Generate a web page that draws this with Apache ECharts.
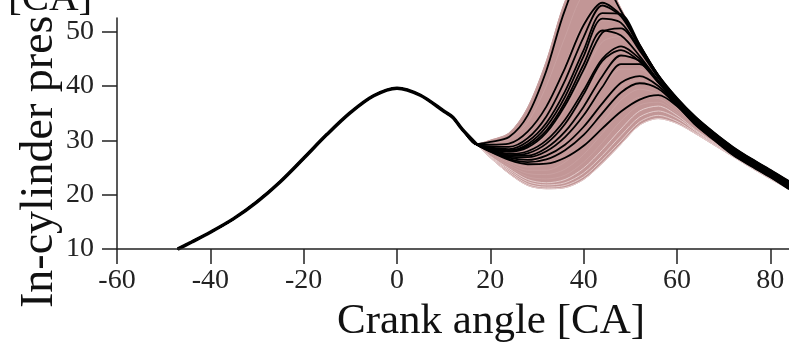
<!DOCTYPE html>
<html>
<head>
<meta charset="utf-8">
<script src="https://cdn.jsdelivr.net/npm/echarts@6/dist/echarts.min.js"></script>
<style>
  html, body { margin: 0; padding: 0; background: #fff; }
  #chart { width: 789px; height: 348px; }
</style>
</head>
<body>
<div id="chart"></div>
<script>
// ---- data ----
// shared compression (motoring) part, crank angle [CA] -> pressure
const compAngles   = [-47, -44, -40, -35, -30, -25, -20, -15, -10, -5, 0, 5, 10, 12, 14, 17];
const compPressure = [10.0, 11.3, 13.1, 15.6, 18.7, 22.4, 26.7, 31.1, 35.1, 38.2, 39.6, 38.3, 35.4, 34.2, 32.0, 29.3];

// combustion / expansion part, sampled at these crank angles
const combAngles = [20, 24, 28, 32, 36, 40, 44, 48, 52, 56, 60, 64, 68, 72, 76, 80, 84];

// pink cycles (from earliest / highest to latest / lowest)
const pink1  = [30.0, 31.3, 36.0, 44.5, 55.5, 61.5, 60.5, 54.2, 47.7, 42.1, 37.8, 34.3, 31.3, 28.7, 26.4, 24.4, 22.4];
const pink2  = [29.6, 30.2, 33.3, 40.0, 49.0, 57.0, 58.3, 53.6, 47.4, 41.9, 37.6, 34.2, 31.2, 28.6, 26.3, 24.3, 22.3];
const pink3  = [29.2, 29.3, 31.3, 36.2, 43.8, 51.8, 55.2, 52.6, 47.1, 41.8, 37.5, 34.0, 31.1, 28.5, 26.2, 24.2, 22.2];
const pink4  = [28.8, 28.5, 29.8, 33.3, 39.3, 46.7, 52.0, 51.6, 46.7, 41.6, 37.4, 33.9, 31.0, 28.4, 26.1, 24.1, 22.1];
const pink5  = [28.5, 27.8, 28.4, 30.9, 35.6, 42.1, 48.1, 49.1, 45.9, 41.3, 37.2, 33.8, 30.8, 28.3, 26.0, 24.0, 22.0];
const pink6  = [28.2, 27.1, 27.2, 28.9, 32.3, 37.6, 43.7, 46.1, 44.6, 40.8, 37.0, 33.6, 30.7, 28.2, 25.9, 23.9, 21.9];
const pink7  = [28.0, 26.5, 26.0, 27.0, 29.7, 34.1, 39.5, 43.1, 43.1, 40.2, 36.7, 33.4, 30.5, 28.0, 25.8, 23.8, 21.8];
const pink8  = [27.8, 26.1, 25.1, 25.5, 27.5, 31.0, 35.8, 39.9, 41.1, 39.3, 36.3, 33.1, 30.3, 27.9, 25.7, 23.7, 21.7];
const pink9  = [27.6, 25.8, 24.5, 24.5, 26.0, 29.1, 33.3, 37.4, 39.4, 38.5, 35.9, 32.8, 30.1, 27.7, 25.6, 23.6, 21.6];
const pink10 = [27.4, 25.4, 23.9, 23.7, 24.7, 27.4, 31.3, 35.3, 37.9, 37.7, 35.4, 32.5, 29.9, 27.6, 25.4, 23.4, 21.5];
const pink11 = [27.2, 25.1, 23.3, 22.9, 23.6, 26.0, 29.6, 33.6, 36.5, 37.0, 35.0, 32.2, 29.7, 27.5, 25.3, 23.3, 21.4];
const pink12 = [27.1, 24.8, 22.8, 22.2, 22.8, 24.9, 28.3, 32.1, 35.4, 36.3, 34.6, 31.9, 29.6, 27.4, 25.2, 23.2, 21.3];
const pink13 = [27.0, 24.5, 22.4, 21.8, 22.2, 24.0, 27.2, 30.9, 34.3, 35.4, 34.1, 31.7, 29.4, 27.3, 25.1, 23.1, 21.2];
const pink14 = [26.9, 24.2, 22.0, 21.4, 21.7, 23.3, 26.4, 29.9, 33.4, 34.6, 33.5, 31.4, 29.2, 27.1, 25.0, 23.0, 21.1];
const pink15 = [26.8, 23.9, 21.7, 21.1, 21.3, 22.8, 25.8, 29.3, 32.8, 34.0, 33.1, 31.2, 29.1, 27.0, 24.9, 22.9, 21.0];

// black cycles
const black1  = [29.7, 30.6, 34.6, 42.8, 54.0, 60.5, 59.5, 53.8, 47.5, 42.0, 37.8, 34.3, 31.4, 28.8, 26.6, 24.6, 22.5];
const black2  = [29.2, 29.4, 31.6, 36.2, 43.3, 51.2, 55.3, 53.0, 47.4, 41.9, 37.7, 34.2, 31.3, 28.7, 26.5, 24.5, 22.4];
const black3  = [28.9, 28.8, 30.4, 34.4, 41.0, 49.0, 54.8, 52.8, 47.2, 41.8, 37.6, 34.1, 31.2, 28.6, 26.4, 24.4, 22.3];
const black4  = [28.7, 28.4, 29.8, 33.2, 39.0, 46.6, 53.4, 53.2, 47.6, 41.9, 37.5, 34.0, 31.1, 28.5, 26.3, 24.3, 22.2];
const black5  = [28.6, 28.2, 29.3, 32.5, 38.0, 45.5, 52.4, 51.6, 46.8, 41.6, 37.3, 33.8, 31.0, 28.3, 26.2, 24.2, 22.0];
const black6  = [28.4, 27.9, 28.7, 31.4, 36.4, 43.0, 49.8, 50.6, 46.5, 41.5, 37.2, 33.7, 30.9, 28.2, 26.1, 24.1, 21.9];
const black7  = [28.5, 28.0, 29.0, 31.8, 37.0, 44.0, 50.2, 49.3, 45.5, 41.0, 37.1, 33.6, 30.8, 28.1, 26.0, 24.0, 21.8];
const black8  = [28.3, 27.5, 28.0, 30.0, 33.8, 39.2, 45.0, 47.3, 45.0, 40.8, 37.0, 33.5, 30.6, 28.0, 25.8, 23.8, 21.7];
const black9  = [28.2, 27.3, 27.6, 29.4, 33.0, 38.5, 44.6, 46.6, 44.5, 40.6, 36.9, 33.4, 30.5, 27.9, 25.7, 23.7, 21.6];
const black10 = [28.2, 27.2, 27.2, 28.6, 31.6, 36.2, 41.8, 45.6, 44.6, 40.8, 36.8, 33.3, 30.4, 27.8, 25.6, 23.6, 21.5];
const black11 = [28.1, 27.0, 26.9, 28.0, 30.6, 34.6, 39.8, 44.0, 44.0, 40.8, 36.6, 33.1, 30.3, 27.6, 25.5, 23.5, 21.3];
const black12 = [28.0, 26.8, 26.4, 27.2, 29.2, 32.5, 36.8, 40.6, 41.8, 40.0, 36.5, 33.0, 30.2, 27.5, 25.4, 23.4, 21.2];
const black13 = [28.0, 26.6, 26.0, 26.5, 28.2, 31.0, 35.0, 38.8, 40.5, 39.5, 36.4, 32.9, 30.1, 27.4, 25.3, 23.3, 21.1];
const black14 = [27.9, 26.4, 25.6, 25.7, 26.8, 29.0, 32.2, 35.3, 37.5, 38.3, 36.3, 32.8, 30.0, 27.3, 25.2, 23.2, 21.0];

// axis ticks
const xTicks = [-60, -40, -20, 0, 20, 40, 60, 80];
const yTicks = [10, 20, 30, 40, 50];

const pinkCurves  = [pink1, pink2, pink3, pink4, pink5, pink6, pink7, pink8, pink9, pink10, pink11, pink12, pink13, pink14, pink15];
const blackCurves = [black1, black2, black3, black4, black5, black6, black7, black8, black9, black10, black11, black12, black13, black14];

// ---- build series ----
const allAngles = compAngles.concat(combAngles);
function valueAt(curve, i) {
  return i < compAngles.length ? compPressure[i] : curve[i - compAngles.length];
}
function fullCurve(curve) {
  return allAngles.map((a, i) => [a, valueAt(curve, i)]);
}
const everyCurve = pinkCurves.concat(blackCurves);
const upperEnv = allAngles.map((a, i) => [a, Math.max.apply(null, everyCurve.map(c => valueAt(c, i)))]);
const lowerEnv = allAngles.map((a, i) => [a, Math.min.apply(null, everyCurve.map(c => valueAt(c, i)))]);

const SMOOTH = 0.3;
const series = [];
series.push({
  type: 'line', data: upperEnv, smooth: SMOOTH, symbol: 'none', clip: false, silent: true,
  lineStyle: { width: 1.2, color: '#c29898' },
  areaStyle: { color: '#c29696', opacity: 1, origin: 'start' }
});
series.push({
  type: 'line', data: lowerEnv, smooth: SMOOTH, symbol: 'none', clip: false, silent: true,
  lineStyle: { width: 1, color: '#c9a2a2' },
  areaStyle: { color: '#ffffff', opacity: 1, origin: 'start' }
});
pinkCurves.forEach((c, k) => series.push({
  type: 'line', data: fullCurve(c), smooth: SMOOTH, symbol: 'none', clip: false, silent: true,
  lineStyle: { width: 1, color: k >= 11 ? '#e4cccc' : '#c9a0a0' }
}));
blackCurves.forEach(c => series.push({
  type: 'line', data: fullCurve(c), smooth: SMOOTH, symbol: 'none', clip: false, silent: true,
  lineStyle: { width: 1.8, color: '#000000' }
}));
series.push({
  type: 'line', data: compAngles.map((a, i) => [a, compPressure[i]]), smooth: SMOOTH,
  symbol: 'none', clip: false, silent: true,
  lineStyle: { width: 3.5, color: '#000000' }
});

const FONT = '"Liberation Serif", "Times New Roman", serif';
const chart = echarts.init(document.getElementById('chart'), null, { renderer: 'canvas' });
chart.setOption({
  animation: false,
  backgroundColor: '#ffffff',
  grid: { left: 117, right: 0, top: 18, bottom: 96, containLabel: false },
  xAxis: {
    type: 'value', min: -60, max: 84, z: 10,
    name: 'Crank angle [CA]', nameLocation: 'middle', nameGap: 46,
    nameTextStyle: { fontFamily: FONT, fontSize: 43, color: '#111', padding: [0, 0, 0, 76] },
    axisLine: { show: true, onZero: false, lineStyle: { color: '#222', width: 1.5 } },
    axisTick: { show: true, length: 15, customValues: xTicks, lineStyle: { color: '#222', width: 1.5 } },
    axisLabel: { customValues: xTicks, margin: 18, fontFamily: FONT, fontSize: 28, color: '#222' },
    splitLine: { show: false }
  },
  yAxis: {
    type: 'value', min: 10, max: 52.5, z: 10,
    axisLine: { show: true, onZero: false, lineStyle: { color: '#222', width: 1.5 } },
    axisTick: { show: true, length: 15, customValues: yTicks, lineStyle: { color: '#222', width: 1.5 } },
    axisLabel: { customValues: yTicks, margin: 23, fontFamily: FONT, fontSize: 28, color: '#222' },
    splitLine: { show: false }
  },
  graphic: [
    {
      type: 'text', x: 40, y: 308, rotation: Math.PI / 2, silent: true, z: 1,
      style: { text: 'In-cylinder pressure [bar]', font: '46px ' + FONT, fill: '#111',
               textAlign: 'left', textVerticalAlign: 'middle' }
    },
    {
      type: 'rect', shape: { x: 0, y: 0, width: 66, height: 17 }, silent: true, z: 2,
      style: { fill: '#ffffff' }
    },
    {
      type: 'text', left: 8, top: -21, silent: true, z: 3,
      style: { text: '[CA]', font: '41px ' + FONT, fill: '#111' }
    }
  ],
  series: series
});
</script>
</body>
</html>
